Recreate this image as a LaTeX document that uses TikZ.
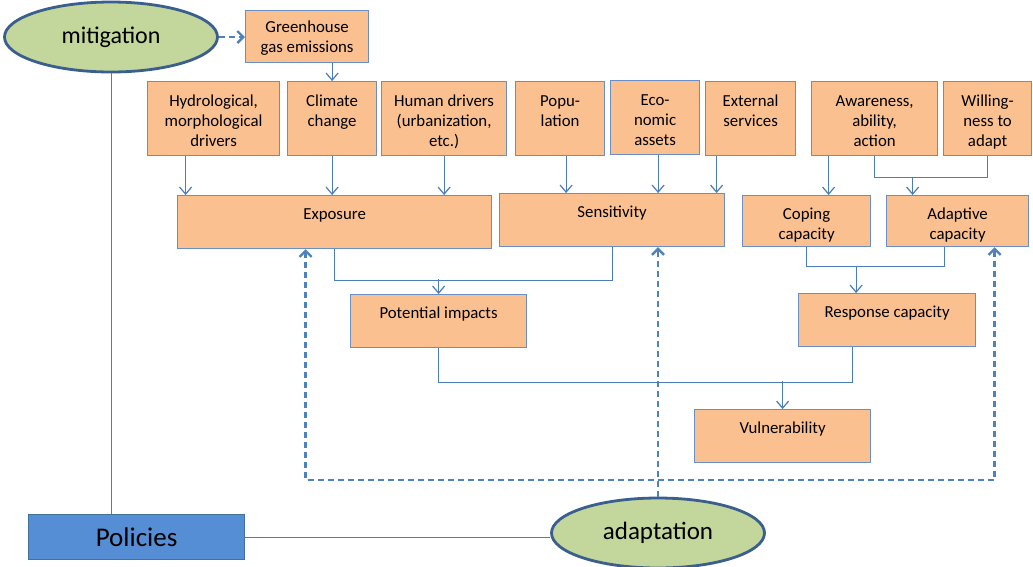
\documentclass[tikz,border=0pt]{standalone}
\usepackage{fontspec}
\setmainfont{Carlito}
\usetikzlibrary{arrows.meta,shapes.geometric}

\definecolor{boxfill}{HTML}{FAC090}
\definecolor{boxline}{HTML}{6A8FC7}
\definecolor{connline}{HTML}{4A7EBB}
\definecolor{dashline}{HTML}{4F81BD}
\definecolor{ovalfill}{HTML}{C3D69B}
\definecolor{ovalline}{HTML}{3A5F8E}
\definecolor{policyfill}{HTML}{558ED5}
\definecolor{policyline}{HTML}{41719C}

\newcommand{\boxtext}[1]{\begin{tabular}[t]{@{}c@{}}#1\end{tabular}}

\begin{document}
\begin{tikzpicture}[x=1pt,y=-1pt,font=\fontsize{16.8}{19.8}\selectfont]
\tikzset{box/.style 2 args={draw=boxline,fill=boxfill,line width=1.2pt,anchor=north west,inner sep=0pt,minimum width=#1,text height=24pt,text depth=#2}}
\tikzset{driver/.style={box={#1}{49pt},text height=25pt}}
\tikzset{oval/.style={ellipse,draw=ovalline,fill=ovalfill,line width=2.8pt,inner sep=0pt,minimum width=213pt,minimum height=70pt,font=\fontsize{24}{28}\selectfont}}
\tikzset{conn/.style={draw=connline,line width=1.2pt}}
\tikzset{arr/.style={conn,-{Straight Barb[length=7pt,width=12pt]}}}
\tikzset{dconn/.style={draw=dashline,line width=2.4pt,dash pattern=on 6pt off 4pt}}
\tikzset{darr/.style={dconn,-{Straight Barb[length=6pt,width=12pt]}}}
\useasboundingbox (0,0) rectangle (1033,566);

% ovals and policies
\node[oval] (mitigation) at (111,37) {mitigation};
\node[oval,font=\fontsize{25}{30}\selectfont] (adaptation) at (658,533) {adaptation};
\node[draw=policyline,fill=policyfill,line width=1.2pt,anchor=north west,inner sep=0pt,minimum width=216pt,minimum height=45pt,font=\fontsize{27}{32}\selectfont] (policies) at (28,514) {Policies};

% drivers
\node[box={123pt}{30pt},text height=22pt] (ghg) at (245,10) {\boxtext{Greenhouse\\gas emissions}};
\node[driver=132pt] (hydro) at (147,81) {\boxtext{Hydrological,\\morphological\\drivers}};
\node[driver=89pt] (climate) at (287,81) {\boxtext{Climate\\change}};
\node[driver=125pt] (human) at (381,81) {\boxtext{Human drivers\\(urbanization,\\etc.)}};
\node[driver=89pt] (popu) at (515,81) {\boxtext{Popu-\\lation}};
\node[driver=89pt] (econ) at (610,80) {\boxtext{Eco-\\nomic\\assets}};
\node[driver=90pt] (external) at (705,81) {\boxtext{External\\services}};
\node[driver=126pt] (aware) at (811,81) {\boxtext{Awareness,\\ability,\\action}};
\node[driver=88pt] (willing) at (943,81) {\boxtext{Willing-\\ness to\\adapt}};

% components
\node[box={314pt}{29pt}] (exposure) at (177,195) {\boxtext{Exposure}};
\node[box={225pt}{29pt}] (sensitivity) at (499,193) {\boxtext{Sensitivity}};
\node[box={128pt}{27pt}] (coping) at (742,195) {\boxtext{Coping\\capacity}};
\node[box={142pt}{27pt}] (adaptive) at (886,195) {\boxtext{Adaptive\\capacity}};
\node[box={176pt}{29pt}] (impacts) at (350,294) {\boxtext{Potential impacts}};
\node[box={177pt}{29pt}] (response) at (798,293) {\boxtext{Response capacity}};
\node[box={176pt}{29pt}] (vuln) at (694,409) {\boxtext{Vulnerability}};

% solid connectors
\draw[arr] (ghg.south -| climate.north) -- (climate.north);
\draw[arr] ([xshift=-28pt]hydro.south) -- ([xshift=-28pt]hydro.south |- exposure.north);
\draw[arr] (climate.south) -- (climate.south |- exposure.north);
\draw[arr] (human.south) -- (human.south |- exposure.north);
\draw[arr] ([xshift=6pt]popu.south) -- ([xshift=6pt]popu.south |- sensitivity.north);
\draw[arr] ([xshift=3pt]econ.south) -- ([xshift=3pt]econ.south |- sensitivity.north);
\draw[arr] ([xshift=-34pt]external.south) -- ([xshift=-34pt]external.south |- sensitivity.north);
\draw[arr] ([xshift=-46pt]aware.south) -- ([xshift=-46pt]aware.south |- coping.north);
\draw[conn] (aware.south) -- ++(0,21) coordinate (awj) -| (willing.south);
\draw[arr] ([xshift=38pt]awj) -- ([xshift=38pt]awj |- adaptive.north);
\draw[conn] (exposure.south) -- ++(0,31) -| (sensitivity.south);
\draw[arr] ([yshift=15pt]impacts.north) -- (impacts.north);
\draw[conn] (coping.south) -- ++(0,19) -| ([xshift=-13pt]adaptive.south);
\draw[arr] ([xshift=-31pt,yshift=27pt]response.north) -- ([xshift=-31pt]response.north);
\draw[conn] (impacts.south) -- ++(0,34) -| ([xshift=-35pt]response.south);
\draw[arr] ([yshift=28pt]vuln.north) -- (vuln.north);
\draw[conn,line width=0.8pt] (mitigation.south) -- (mitigation.south |- policies.north);
\draw[conn] (policies.east) -- (policies.east -| adaptation.west);

% dashed connectors
\coordinate (dbase) at ([yshift=-17pt]vuln.south);
\draw[darr] (mitigation.east) -- (mitigation.east -| ghg.west);
\draw[darr] (adaptation.north) -- (adaptation.north |- sensitivity.south);
\draw[darr,{Straight Barb[length=6pt,width=12pt]}-{Straight Barb[length=6pt,width=12pt]}] ([xshift=-29pt]exposure.south) |- (dbase) -| ([xshift=37pt]adaptive.south);
\end{tikzpicture}
\end{document}
